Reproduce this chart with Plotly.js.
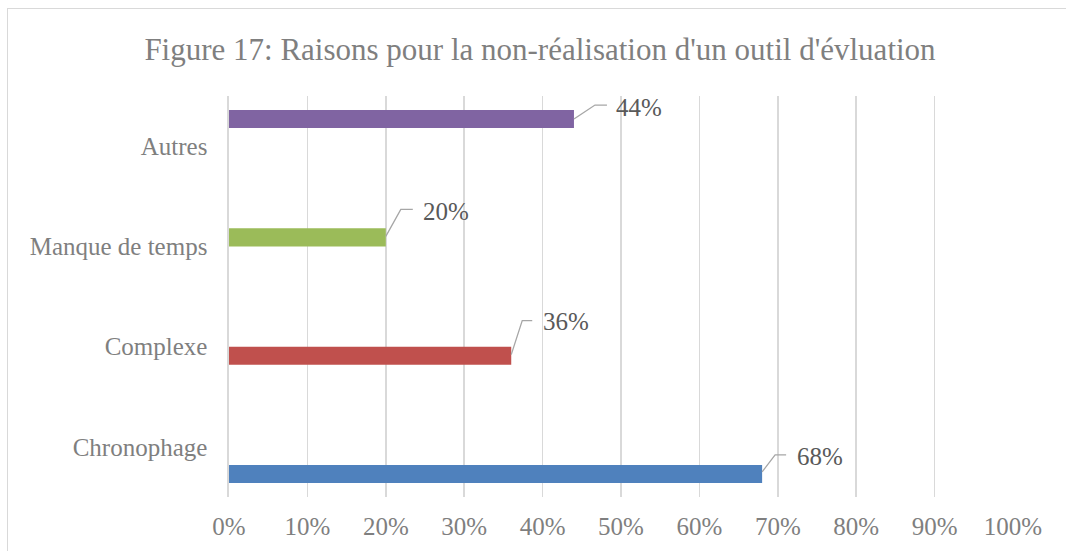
<!DOCTYPE html>
<html>
<head>
<meta charset="utf-8">
<script src="https://cdn.plot.ly/plotly-3.0.1.min.js"></script>
<style>
  html, body { margin: 0; padding: 0; background: #ffffff; }
  #wrap { position: relative; width: 1066px; height: 551px; overflow: hidden; }
  #chart { position: absolute; left: 0; top: 0; width: 1066px; height: 551px; }
  #frame { position: absolute; left: 7px; top: 8px; width: 1100px; height: 600px;
           border-top: 1.5px solid #d9d9d9; border-left: 1.5px solid #d9d9d9; pointer-events: none; }
</style>
</head>
<body>
<div id="wrap">
  <div id="chart"></div>
  <div id="frame"></div>
</div>
<script>
// ---- data ----
const categories = ['Chronophage', 'Complexe', 'Manque de temps', 'Autres'];
const values = [68, 36, 20, 44];
const xTickVals = [0, 10, 20, 30, 40, 50, 60, 70, 80, 90, 100];
const xTickText = ['0%', '10%', '20%', '30%', '40%', '50%', '60%', '70%', '80%', '90%', '100%'];
const title = "Figure 17: Raisons pour la non-réalisation d'un outil d'évluation";

// ---- styles ----
const colors = ['#4F81BD', '#C0504D', '#9BBB59', '#8064A2'];
const FONT = '"Liberation Serif", "DejaVu Serif", serif';
const BARGAP = 0.28;
// leader-line / label offsets in pixels relative to bar end (positive = up)
const labelOffsets = [
  { pts: [[0, 2], [13, 19], [24, 19]], text: [33, 17] },
  { pts: [[0, 1], [11, 35], [21, 35]], text: [30, 34] },
  { pts: [[0, 1], [15, 28], [27, 28]], text: [35, 26] },
  { pts: [[0, 0], [21, 14], [33, 14]], text: [40, 12] }
];

const nSeries = categories.length;
const slot = (1 - BARGAP) / nSeries;
const yIdx = categories.map((c, i) => i);

const traces = categories.map((cat, s) => ({
  type: 'bar',
  orientation: 'h',
  name: cat,
  y: yIdx,
  x: yIdx.map(j => (j === s ? values[s] : null)),
  marker: { color: colors[s] },
  hoverinfo: 'skip'
}));

const shapes = [];
const annotations = [];
values.forEach((v, s) => {
  const yc = s - (1 - BARGAP) / 2 + slot * (s + 0.5);
  const o = labelOffsets[s];
  const path = o.pts.map((p, k) => (k === 0 ? 'M' : 'L') + p[0] + ',' + p[1]).join(' ');
  shapes.push({
    type: 'path', xref: 'x', yref: 'y',
    xsizemode: 'pixel', ysizemode: 'pixel',
    xanchor: v, yanchor: yc,
    path: path,
    line: { color: '#a6a6a6', width: 1.3 }
  });
  annotations.push({
    xref: 'x', yref: 'y', x: v, y: yc,
    xanchor: 'left', yanchor: 'middle',
    xshift: o.text[0], yshift: o.text[1],
    text: v + '%', showarrow: false,
    font: { family: FONT, size: 25, color: '#595959' }
  });
});

const layout = {
  width: 1066, height: 551,
  margin: { l: 229, r: 53, t: 96, b: 54, pad: 0 },
  paper_bgcolor: '#ffffff', plot_bgcolor: '#ffffff',
  showlegend: false,
  barmode: 'group', bargap: BARGAP, bargroupgap: 0,
  title: {
    text: title,
    x: 540 / 1066, xanchor: 'center', xref: 'container',
    y: 1 - 49 / 551, yanchor: 'middle', yref: 'container',
    font: { family: FONT, size: 31, color: '#7f7f7f' }
  },
  xaxis: {
    range: [0, 100],
    tickvals: xTickVals, ticktext: xTickText,
    showgrid: true, gridcolor: '#d9d9d9', gridwidth: 1.6,
    zeroline: false, showline: false, ticks: '',
    ticklabelstandoff: 12,
    tickfont: { family: FONT, size: 25, color: '#7f7f7f' },
    fixedrange: true
  },
  yaxis: {
    range: [-0.5, 3.5],
    tickvals: yIdx, ticktext: categories,
    showgrid: false, zeroline: false,
    showline: true, linecolor: '#d9d9d9', linewidth: 1.6,
    ticks: '', ticklabelstandoff: 15,
    tickfont: { family: FONT, size: 25, color: '#7f7f7f' },
    fixedrange: true
  },
  shapes: shapes,
  annotations: annotations
};

Plotly.newPlot('chart', traces, layout, { displayModeBar: false, staticPlot: true });
</script>
</body>
</html>
